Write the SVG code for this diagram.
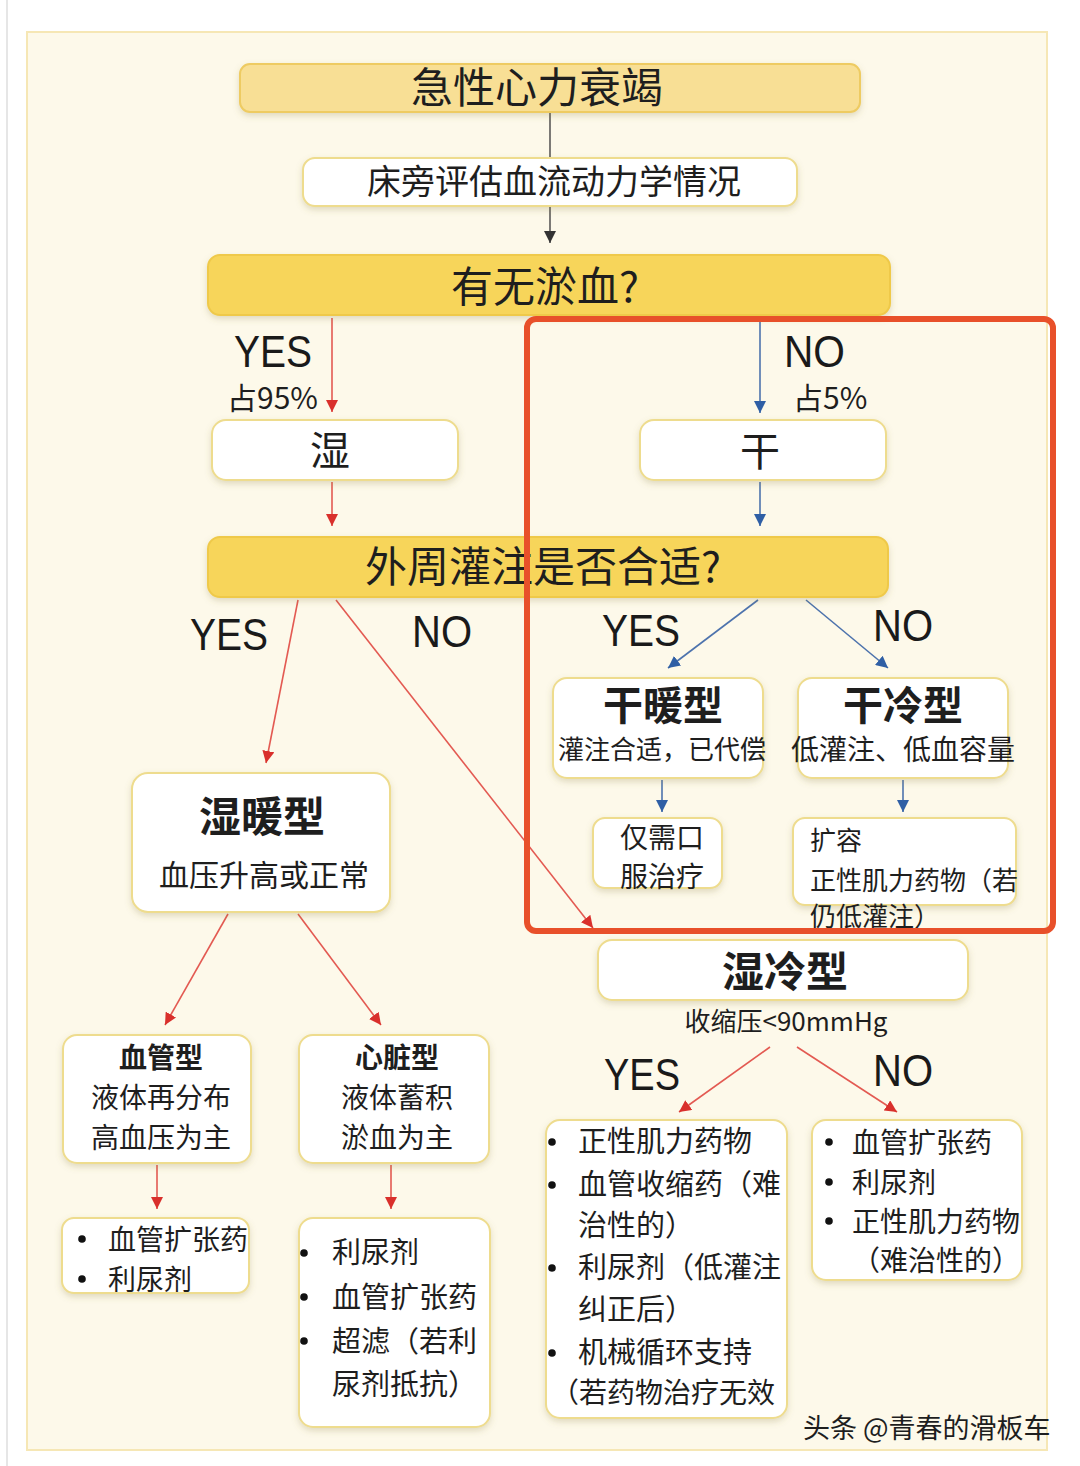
<svg xmlns="http://www.w3.org/2000/svg" width="1080" height="1466" viewBox="0 0 1080 1466">
<defs>
<style>
.cjk{font-family:"Noto Sans CJK SC","Noto Sans",sans-serif;fill:#1e1e1e}
.lat{font-family:"Liberation Sans",Arial,sans-serif;fill:#1a1a1a}
.b{font-weight:bold}
.mid{text-anchor:middle}
.box{fill:#ffffff;stroke:#eedc8e;stroke-width:2}
.gold1{fill:#f8df95;stroke:#eecb62;stroke-width:2}
.gold2{fill:#f7d55a;stroke:#efc94a;stroke-width:2}
.red{stroke:#e35a52;stroke-width:1.6;fill:none}
.blue{stroke:#4d73ad;stroke-width:1.6;fill:none}
.blk{stroke:#444;stroke-width:1.4;fill:none}
</style>
<filter id="sh" x="-10%" y="-20%" width="120%" height="150%">
<feDropShadow dx="0" dy="3" stdDeviation="3" flood-color="#8a7a40" flood-opacity="0.25"/>
</filter>
<marker id="ar" markerUnits="userSpaceOnUse" markerWidth="12" markerHeight="12" refX="10" refY="5" orient="auto" viewBox="0 0 10 10"><path d="M0,0 L10,5 L0,10 z" fill="#d9302c"/></marker>
<marker id="ab" markerUnits="userSpaceOnUse" markerWidth="12" markerHeight="12" refX="10" refY="5" orient="auto" viewBox="0 0 10 10"><path d="M0,0 L10,5 L0,10 z" fill="#2f5fa5"/></marker>
<marker id="ak" markerUnits="userSpaceOnUse" markerWidth="12" markerHeight="12" refX="10" refY="5" orient="auto" viewBox="0 0 10 10"><path d="M0,0 L10,5 L0,10 z" fill="#333"/></marker>
</defs>
<rect x="0" y="0" width="1080" height="1466" fill="#ffffff"/>
<line x1="7" y1="0" x2="7" y2="1466" stroke="#e6e6e6" stroke-width="2"/>
<rect x="27" y="32" width="1020" height="1418" fill="#fdf9ea" stroke="#f6e7b5" stroke-width="2"/>

<g id="connectors">
<line class="blk" x1="550" y1="112" x2="550" y2="243" marker-end="url(#ak)"/>
<line class="red" x1="332" y1="318" x2="332" y2="412" marker-end="url(#ar)"/>
<line class="red" x1="332" y1="482" x2="332" y2="526" marker-end="url(#ar)"/>
<line class="blue" x1="760" y1="322" x2="760" y2="413" marker-end="url(#ab)"/>
<line class="blue" x1="760" y1="482" x2="760" y2="526" marker-end="url(#ab)"/>
<line class="red" x1="298" y1="600" x2="266" y2="763" marker-end="url(#ar)"/>
<line class="red" x1="336" y1="600" x2="593" y2="928" marker-end="url(#ar)"/>
<line class="blue" x1="758" y1="600" x2="668" y2="668" marker-end="url(#ab)"/>
<line class="blue" x1="806" y1="600" x2="888" y2="668" marker-end="url(#ab)"/>
<line class="blue" x1="662" y1="780" x2="662" y2="812" marker-end="url(#ab)"/>
<line class="blue" x1="903" y1="780" x2="903" y2="812" marker-end="url(#ab)"/>
<line class="red" x1="228" y1="914" x2="165" y2="1025" marker-end="url(#ar)"/>
<line class="red" x1="298" y1="914" x2="381" y2="1025" marker-end="url(#ar)"/>
<line class="red" x1="157" y1="1165" x2="157" y2="1209" marker-end="url(#ar)"/>
<line class="red" x1="391" y1="1165" x2="391" y2="1209" marker-end="url(#ar)"/>
<line class="red" x1="770" y1="1047" x2="679" y2="1112" marker-end="url(#ar)"/>
<line class="red" x1="797" y1="1047" x2="897" y2="1112" marker-end="url(#ar)"/>
</g>

<g id="labels">
<text class="lat" x="234" y="367" font-size="44" textLength="78" lengthAdjust="spacingAndGlyphs">YES</text>
<text class="cjk" x="227" y="409" font-size="30">占95%</text>
<text class="lat" x="784" y="367" font-size="44" textLength="61" lengthAdjust="spacingAndGlyphs">NO</text>
<text class="cjk" x="793" y="409" font-size="30">占5%</text>
<text class="lat" x="190" y="650" font-size="44" textLength="78" lengthAdjust="spacingAndGlyphs">YES</text>
<text class="lat" x="412" y="647" font-size="44" textLength="60" lengthAdjust="spacingAndGlyphs">NO</text>
<text class="lat" x="602" y="646" font-size="44" textLength="78" lengthAdjust="spacingAndGlyphs">YES</text>
<text class="lat" x="873" y="641" font-size="44" textLength="60" lengthAdjust="spacingAndGlyphs">NO</text>
<text class="lat" x="604" y="1090" font-size="44" textLength="76" lengthAdjust="spacingAndGlyphs">YES</text>
<text class="lat" x="873" y="1086" font-size="44" textLength="60" lengthAdjust="spacingAndGlyphs">NO</text>
</g>

<g id="n-ahf">
<rect class="gold1" x="240" y="64" width="620" height="48" rx="10" filter="url(#sh)"/>
<text class="cjk mid" x="537" y="103" font-size="42">急性心力衰竭</text>
</g>
<g id="n-assess">
<rect class="box" x="303" y="158" width="494" height="48" rx="12" filter="url(#sh)"/>
<text class="cjk mid" x="554" y="194" font-size="34">床旁评估血流动力学情况</text>
</g>
<g id="n-congestion">
<rect class="gold2" x="208" y="255" width="682" height="60" rx="12" filter="url(#sh)"/>
<text class="cjk mid" x="545" y="302" font-size="42">有无淤血?</text>
</g>
<g id="n-wet">
<rect class="box" x="212" y="420" width="246" height="60" rx="14" filter="url(#sh)"/>
<text class="cjk mid" x="330" y="465" font-size="40">湿</text>
</g>
<g id="n-dry">
<rect class="box" x="640" y="420" width="246" height="60" rx="14" filter="url(#sh)"/>
<text class="cjk mid" x="760" y="466" font-size="40">干</text>
</g>
<g id="n-perfusion">
<rect class="gold2" x="208" y="537" width="680" height="60" rx="12" filter="url(#sh)"/>
<text class="cjk mid" x="543" y="582" font-size="42">外周灌注是否合适?</text>
</g>
<g id="n-drywarm">
<rect class="box" x="553" y="678" width="210" height="100" rx="14" filter="url(#sh)"/>
<text class="cjk b mid" x="663" y="720" font-size="40">干暖型</text>
<text class="cjk mid" x="662" y="759" font-size="26">灌注合适，已代偿</text>
</g>
<g id="n-drycold">
<rect class="box" x="798" y="678" width="210" height="100" rx="14" filter="url(#sh)"/>
<text class="cjk b mid" x="903" y="720" font-size="40">干冷型</text>
<text class="cjk mid" x="903" y="760" font-size="28">低灌注、低血容量</text>
</g>
<g id="n-oral">
<rect class="box" x="593" y="818" width="129" height="70" rx="12" filter="url(#sh)"/>
<text class="cjk mid" x="662" y="848" font-size="28">仅需口</text>
<text class="cjk mid" x="662" y="887" font-size="28">服治疗</text>
</g>
<g id="n-volume">
<rect class="box" x="793" y="818" width="223" height="87" rx="12" filter="url(#sh)"/>
<text class="cjk" x="810" y="850" font-size="26">扩容</text>
<text class="cjk" x="810" y="890" font-size="26">正性肌力药物（若</text>
<text class="cjk" x="810" y="926" font-size="26">仍低灌注）</text>
</g>
<g id="n-wetwarm">
<rect class="box" x="132" y="773" width="258" height="139" rx="16" filter="url(#sh)"/>
<text class="cjk b mid" x="262" y="832" font-size="42">湿暖型</text>
<text class="cjk mid" x="264" y="886" font-size="30">血压升高或正常</text>
</g>
<g id="n-vascular">
<rect class="box" x="63" y="1035" width="188" height="128" rx="14" filter="url(#sh)"/>
<text class="cjk b mid" x="161" y="1068" font-size="28">血管型</text>
<text class="cjk mid" x="161" y="1108" font-size="28">液体再分布</text>
<text class="cjk mid" x="161" y="1148" font-size="28">高血压为主</text>
</g>
<g id="n-cardiac">
<rect class="box" x="299" y="1035" width="190" height="128" rx="14" filter="url(#sh)"/>
<text class="cjk b mid" x="397" y="1068" font-size="28">心脏型</text>
<text class="cjk mid" x="397" y="1108" font-size="28">液体蓄积</text>
<text class="cjk mid" x="397" y="1148" font-size="28">淤血为主</text>
</g>
<g id="n-vascular-tx">
<rect class="box" x="62" y="1218" width="187" height="75" rx="12" filter="url(#sh)"/>
<circle cx="82" cy="1239" r="3.8" fill="#111"/>
<circle cx="82" cy="1279" r="3.8" fill="#111"/>
<text class="cjk" x="108" y="1250" font-size="28">血管扩张药</text>
<text class="cjk" x="108" y="1290" font-size="28">利尿剂</text>
</g>
<g id="n-cardiac-tx">
<rect class="box" x="299" y="1218" width="191" height="209" rx="14" filter="url(#sh)"/>
<circle cx="304" cy="1253" r="3.8" fill="#111"/>
<circle cx="304" cy="1297" r="3.8" fill="#111"/>
<circle cx="304" cy="1341" r="3.8" fill="#111"/>
<text class="cjk" x="332" y="1263" font-size="29">利尿剂</text>
<text class="cjk" x="332" y="1308" font-size="29">血管扩张药</text>
<text class="cjk" x="332" y="1352" font-size="29">超滤（若利</text>
<text class="cjk" x="332" y="1395" font-size="29">尿剂抵抗）</text>
</g>
<g id="n-wetcold">
<rect class="box" x="598" y="940" width="370" height="60" rx="14" filter="url(#sh)"/>
<text class="cjk b mid" x="785" y="987" font-size="42">湿冷型</text>
<text class="cjk mid" x="786" y="1031" font-size="26">收缩压&lt;90mmHg</text>
</g>
<g id="n-wetcold-yes">
<rect class="box" x="546" y="1120" width="241" height="298" rx="14" filter="url(#sh)"/>
<circle cx="552" cy="1142" r="3.8" fill="#111"/>
<circle cx="552" cy="1185" r="3.8" fill="#111"/>
<circle cx="552" cy="1268" r="3.8" fill="#111"/>
<circle cx="552" cy="1353" r="3.8" fill="#111"/>
<text class="cjk" x="578" y="1152" font-size="29">正性肌力药物</text>
<text class="cjk" x="578" y="1195" font-size="29">血管收缩药（难</text>
<text class="cjk" x="578" y="1236" font-size="29">治性的）</text>
<text class="cjk" x="578" y="1278" font-size="29">利尿剂（低灌注</text>
<text class="cjk" x="578" y="1320" font-size="29">纠正后）</text>
<text class="cjk" x="578" y="1363" font-size="29">机械循环支持</text>
<text class="cjk" x="551" y="1403" font-size="28">（若药物治疗无效</text>
</g>
<g id="n-wetcold-no">
<rect class="box" x="812" y="1120" width="210" height="160" rx="14" filter="url(#sh)"/>
<circle cx="829" cy="1142" r="3.8" fill="#111"/>
<circle cx="829" cy="1182" r="3.8" fill="#111"/>
<circle cx="829" cy="1221" r="3.8" fill="#111"/>
<text class="cjk" x="852" y="1153" font-size="28">血管扩张药</text>
<text class="cjk" x="852" y="1193" font-size="28">利尿剂</text>
<text class="cjk" x="852" y="1232" font-size="28">正性肌力药物</text>
<text class="cjk" x="852" y="1271" font-size="28">（难治性的）</text>
</g>

<rect id="highlight" x="527" y="319" width="526" height="612" rx="9" fill="none" stroke="#e8502a" stroke-width="6"/>

<text class="cjk" x="803" y="1438" font-size="27" fill="#111">头条 @青春的滑板车</text>
</svg>
